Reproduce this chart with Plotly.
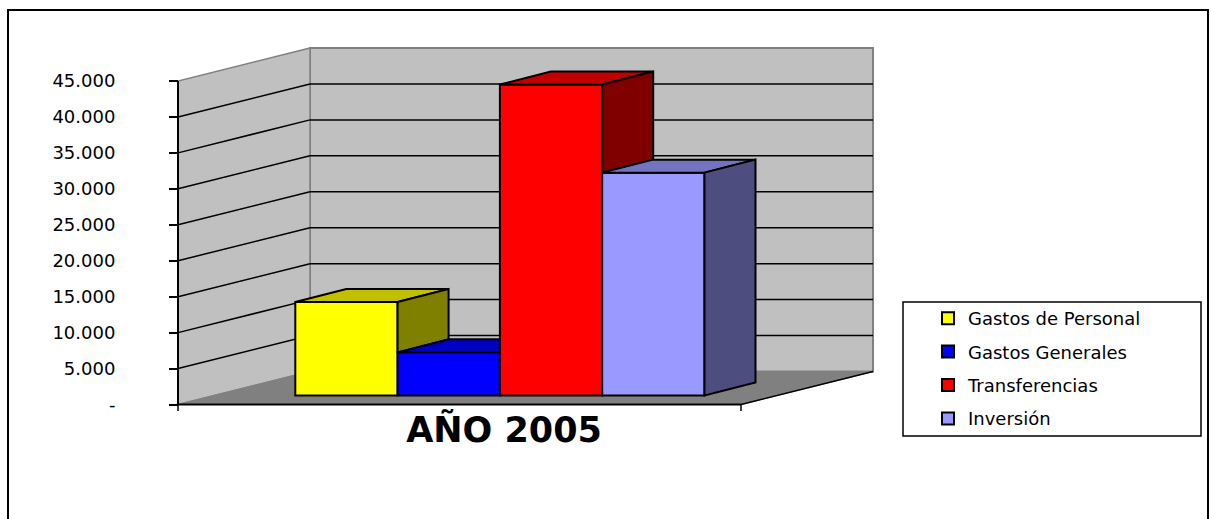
import plotly.graph_objects as go

# ---- data ----
categories = ["Gastos de Personal", "Gastos Generales", "Transferencias", "Inversión"]
values = [13000, 6000, 43250, 31000]
tick_values = [0, 5000, 10000, 15000, 20000, 25000, 30000, 35000, 40000, 45000]
tick_labels = ["-", "5.000", "10.000", "15.000", "20.000", "25.000", "30.000", "35.000", "40.000", "45.000"]
axis_label = "AÑO 2005"
front_colors = ["#FFFF00", "#0000FF", "#FF0000", "#9999FF"]
top_colors = ["#C0C000", "#0000C0", "#C00000", "#7373BF"]
side_colors = ["#808000", "#000080", "#800000", "#4D4D80"]

# ---- page + projection geometry ----
W, H = 1211, 519
Y0_PX, Y45_PX = 404.5, 81.0
UNITS_PER_PX = 45000 / (Y0_PX - Y45_PX)
X_FRONT_L, X_FRONT_R = 178.0, 741.0
WALL_DX, WALL_DY = 132.0, 33.0 * UNITS_PER_PX
BAR_L, BAR_W = 295.3, 102.3
BAR_DX, BAR_DY = 51.0, 13.0 * UNITS_PER_PX
BAR_BASE = 9.0 * UNITS_PER_PX
TOP = tick_values[-1]
EDGE = 2


def val(px):
    return (Y0_PX - px) * UNITS_PER_PX


def path(points):
    return "M" + " L".join(f"{x},{y}" for x, y in points) + " Z"


shapes = []


def poly(points, fill, line, width=1):
    shapes.append(dict(type="path", path=path(points), xref="x", yref="y", layer="below",
                       fillcolor=fill, line=dict(color=line, width=width)))


def seg(x0, y0, x1, y1, color="#000000", width=1.5):
    shapes.append(dict(type="line", x0=x0, y0=y0, x1=x1, y1=y1, xref="x", yref="y", layer="below",
                       line=dict(color=color, width=width)))


# walls and floor
poly([(X_FRONT_L + WALL_DX, WALL_DY), (X_FRONT_R + WALL_DX, WALL_DY),
      (X_FRONT_R + WALL_DX, TOP + WALL_DY), (X_FRONT_L + WALL_DX, TOP + WALL_DY)], "#C0C0C0", "#808080", 2)
poly([(X_FRONT_L, 0), (X_FRONT_L, TOP), (X_FRONT_L + WALL_DX, TOP + WALL_DY),
      (X_FRONT_L + WALL_DX, WALL_DY)], "#C0C0C0", "#808080", 1.5)
poly([(X_FRONT_L, 0), (X_FRONT_R, 0), (X_FRONT_R + WALL_DX, WALL_DY),
      (X_FRONT_L + WALL_DX, WALL_DY)], "#808080", "#808080", 1)
# gridlines
for v in tick_values[1:-1]:
    seg(X_FRONT_L, v, X_FRONT_L + WALL_DX, v + WALL_DY)
    seg(X_FRONT_L + WALL_DX, v + WALL_DY, X_FRONT_R + WALL_DX, v + WALL_DY)
# axis lines and category ticks
seg(X_FRONT_L, 0, X_FRONT_L, TOP, width=2)
seg(X_FRONT_L, 0, X_FRONT_R, 0, width=2)
seg(X_FRONT_R, 0, X_FRONT_R + WALL_DX, WALL_DY)
for x in (X_FRONT_L, X_FRONT_R):
    seg(x, 0, x, val(Y0_PX + 6.5), width=1.5)

# chart frame and legend box (page coordinates)
shapes.append(dict(type="rect", xref="paper", yref="paper", layer="below",
                   x0=8 / W, x1=1208 / W, y0=-0.02, y1=1 - 10 / H,
                   line=dict(color="#000000", width=2), fillcolor="rgba(0,0,0,0)"))
shapes.append(dict(type="rect", xref="paper", yref="paper", layer="below",
                   x0=903 / W, x1=1201 / W, y0=1 - 436 / H, y1=1 - 302 / H,
                   line=dict(color="#000000", width=1.5), fillcolor="#FFFFFF"))

fig = go.Figure()

# front faces: real bars
for i, (name, v) in enumerate(zip(categories, values)):
    fig.add_trace(go.Bar(x=[BAR_L + (i + 0.5) * BAR_W], y=[v], base=BAR_BASE, width=BAR_W,
                         name=name, legendgroup=name, marker=dict(color=front_colors[i],
                         line=dict(color="#000000", width=EDGE)), hoverinfo="name+y"))

# visible parts of the top and side faces
for i, v in enumerate(values):
    xl = BAR_L + i * BAR_W
    xr = xl + BAR_W
    y = BAR_BASE + v
    nxt = BAR_BASE + values[i + 1] if i + 1 < len(values) else BAR_BASE
    # top: hidden behind the next bar when that bar is taller
    if nxt > y:
        tx = [xl, xl + BAR_DX, xr, xr, xl]
        ty = [y, y + BAR_DY, y + BAR_DY, y, y]
    else:
        tx = [xl, xl + BAR_DX, xr + BAR_DX, xr, xl]
        ty = [y, y + BAR_DY, y + BAR_DY, y, y]
    fig.add_trace(go.Scatter(x=tx, y=ty, mode="lines", fill="toself", fillcolor=top_colors[i],
                             line=dict(color="#000000", width=EDGE), showlegend=False, hoverinfo="skip"))
    # side: only the part rising above the next bar
    if nxt < y:
        sx = [xr, xr + BAR_DX, xr + BAR_DX, xr, xr]
        sy = [y, y + BAR_DY, nxt + BAR_DY, nxt, y]
        fig.add_trace(go.Scatter(x=sx, y=sy, mode="lines", fill="toself", fillcolor=side_colors[i],
                                 line=dict(color="#000000", width=EDGE), showlegend=False, hoverinfo="skip"))

fig.update_layout(
    width=W, height=H, margin=dict(l=0, r=0, t=0, b=0), autosize=False,
    paper_bgcolor="#FFFFFF", plot_bgcolor="rgba(0,0,0,0)", barmode="overlay", shapes=shapes,
    font=dict(family="DejaVu Sans", color="#000000"),
    xaxis=dict(range=[0, W], domain=[0, 1], anchor="free", position=1 - Y0_PX / H,
               showgrid=False, zeroline=False, showline=False, ticks="",
               tickmode="array", tickvals=[504], ticktext=[axis_label], ticklabelstandoff=1,
               tickfont=dict(family="DejaVu Sans", size=35, weight="bold", color="#000000")),
    yaxis=dict(range=[val(H), val(0)], domain=[0, 1], anchor="free", position=X_FRONT_L / W,
               showgrid=False, zeroline=False, showline=False,
               ticks="outside", ticklen=9, tickwidth=1.5, tickcolor="#000000",
               tickmode="array", tickvals=tick_values, ticktext=tick_labels, ticklabelstandoff=50,
               tickfont=dict(family="DejaVu Sans", size=18, color="#000000")),
    legend=dict(x=928 / W, y=1 - 300 / H, xanchor="left", yanchor="top", bgcolor="rgba(0,0,0,0)",
                borderwidth=0, itemclick=False, itemdoubleclick=False, traceorder="grouped",
                tracegroupgap=7, font=dict(family="DejaVu Sans", size=18, color="#000000")),
    showlegend=True,
)

fig.write_html("out.html", config=dict(displayModeBar=False),
               post_script="document.body.style.margin='0';document.body.style.overflow='hidden';")
